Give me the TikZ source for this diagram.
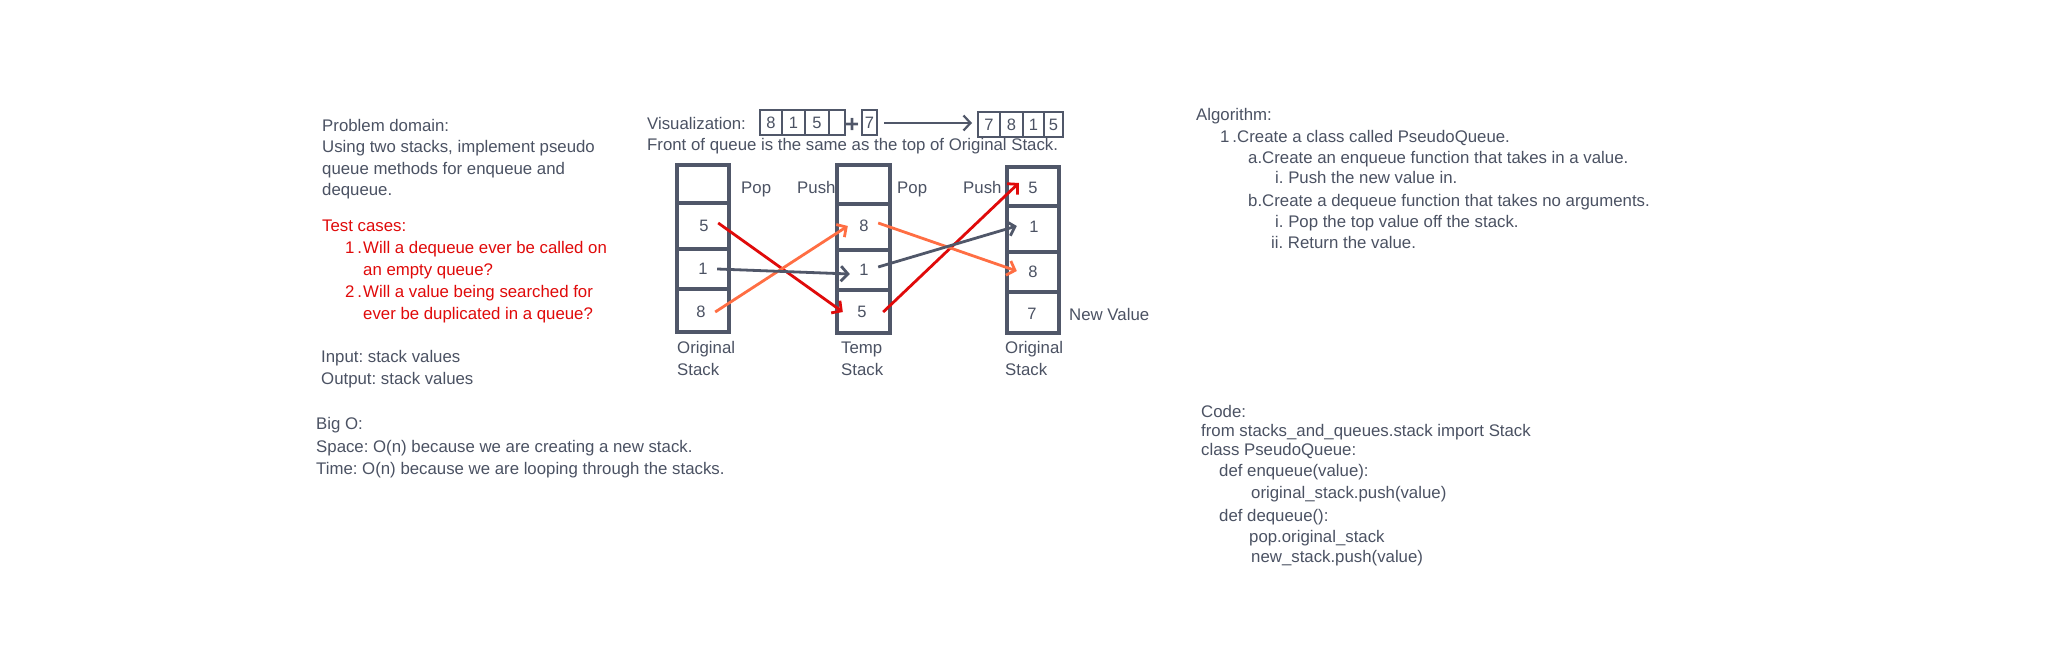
\documentclass[tikz,border=0pt]{standalone}
\usepackage{fontspec}
\setmainfont{Liberation Sans}
\usetikzlibrary{arrows.meta}
\definecolor{tgray}{HTML}{4B5263}
\definecolor{lgray}{HTML}{505769}
\definecolor{tred}{HTML}{E00A0A}
\definecolor{aorange}{HTML}{FF6E43}
\tikzset{
  txt/.style={anchor=base west, inner sep=0pt, text=tgray, font=\fontsize{16.8}{19}\selectfont\frenchspacing},
  rtxt/.style={txt, text=tred},
  num/.style={anchor=center, inner sep=0pt, minimum width=28pt, minimum height=16pt, text=tgray, font=\fontsize{16.5}{19}\selectfont},
  stk/.style={draw=lgray, line width=3.2pt},
  vbox/.style={draw=lgray, line width=2.6pt},
  vdiv/.style={draw=lgray, line width=1.6pt},
  arr/.style={line width=2.8pt, -{Straight Barb[length=7pt,width=15pt]}},
  redarr/.style={arr, draw=tred},
  orarr/.style={arr, draw=aorange},
  grarr/.style={arr, draw=lgray},
}
\begin{document}
\begin{tikzpicture}[x=1pt,y=-1pt]
\path[use as bounding box, fill=white] (0,0) rectangle (2046,671);

% Problem domain block
\node[txt] (pd1) at (322,132) {Problem domain:};
\node[txt] (pd2) at (322,153) {Using two stacks, implement pseudo};
\node[txt] (pd3) at (322,175) {queue methods for enqueue and};
\node[txt] (pd4) at (322,196) {dequeue.};
\node[rtxt] (tc0) at (322,232) {Test cases:};
\node[rtxt] (tc1n) at (345,254) {1\,.};
\node[rtxt] (tc1) at (363,254) {Will a dequeue ever be called on};
\node[rtxt] (tc1b) at (363,276) {an empty queue?};
\node[rtxt] (tc2n) at (345,297) {2\,.};
\node[rtxt] (tc2) at (363,297) {Will a value being searched for};
\node[rtxt] (tc2b) at (363,319) {ever be duplicated in a queue?};
\node[txt] (in) at (321,362) {Input: stack values};
\node[txt] (out) at (321,384) {Output: stack values};

% Big O
\node[txt] (bo1) at (316,429) {Big O:};
\node[txt] (bo2) at (316,452) {Space: O(n) because we are creating a new stack.};
\node[txt] (bo3) at (316,474) {Time: O(n) because we are looping through the stacks.};

% Visualization
\node[txt] (viz) at (647,130) {Visualization:};
\node[txt] (front) at (647,151) {Front of queue is the same as the top of Original Stack.};
\draw[vbox] (760,110) rectangle (845,135);
\draw[vdiv] (782,110) -- (782,135) (805,110) -- (805,135) (829,110) -- (829,135);
\node[num] (q8) at (771,122.5) {8};
\node[num] (q1) at (793.5,122.5) {1};
\node[num] (q5) at (817,122.5) {5};
\node[anchor=center, inner sep=0pt, text=lgray, font=\fontsize{24}{24}\selectfont\bfseries] (plus) at (852,125) {+};
\draw[vbox] (862,110) rectangle (877,135);
\node[num, minimum width=12pt] (q7) at (869.5,122.5) {7};
\draw[vbox] (978,112) rectangle (1063,137);
\draw[vdiv] (1000,112) -- (1000,137) (1023,112) -- (1023,137) (1044,112) -- (1044,137);
\node[num, minimum width=12pt] (r7) at (989,124.5) {7};
\node[num] (r8) at (1011.5,124.5) {8};
\node[num] (r1) at (1033.5,124.5) {1};
\node[num] (r5) at (1053.5,124.5) {5};
\coordinate (va) at (884,123);
\coordinate (vb) at (972,123);
\draw[grarr, line width=2.2pt] (va) -- (vb);

% Stack 1 (Original)
\draw[stk] (677,165) rectangle (729,332);
\draw[stk] (677,203) -- (729,203) (677,249) -- (729,249) (677,289) -- (729,289);
\node[num] (a5) at (704,226) {5};
\node[num] (a1) at (703,269) {1};
\node[num] (a8) at (701,312) {8};

% Stack 2 (Temp)
\draw[stk] (837,165) rectangle (890,333);
\draw[stk] (837,204) -- (890,204) (837,250) -- (890,250) (837,290) -- (890,290);
\node[num] (b8) at (864,226) {8};
\node[num] (b1) at (864,270) {1};
\node[num] (b5) at (862,312) {5};

% Stack 3 (Original)
\draw[stk] (1007,167) rectangle (1059,333);
\draw[stk] (1007,206) -- (1059,206) (1007,252) -- (1059,252) (1007,292) -- (1059,292);
\node[num] (c5) at (1033,188) {5};
\node[num] (c1) at (1034,227) {1};
\node[num] (c8) at (1033,272) {8};
\node[num] (c7) at (1032,314) {7};

% Labels
\node[txt] (pop1) at (741,194) {Pop};
\node[txt] (push1) at (797,194) {Push};
\node[txt] (pop2) at (897,194) {Pop};
\node[txt] (push2) at (963,194) {Push};
\node[txt] (newv) at (1069,320) {New Value};
\node[txt] (l1a) at (677,353) {Original};
\node[txt] (l1b) at (677,375) {Stack};
\node[txt] (l2a) at (841,353) {Temp};
\node[txt] (l2b) at (841,375) {Stack};
\node[txt] (l3a) at (1005,353) {Original};
\node[txt] (l3b) at (1005,375) {Stack};

% Arrows stack1 -> stack2
\draw[redarr] ([yshift=3pt]a5.east) -- ([xshift=-5pt]b5.west);
\draw[orarr] (a8.east) -- ([xshift=-2pt]b8.west);
\draw[grarr] (a1.east) -- ([yshift=-4pt]b1.west);
% Arrows stack2 -> stack3
\draw[redarr] ([xshift=7pt]b5.east) -- ([yshift=5pt]c5.west);
\draw[orarr] ([yshift=3pt]b8.east) -- ([yshift=1pt,xshift=-2pt]c8.west);
\draw[grarr] ([yshift=3pt]b1.east) -- ([yshift=1pt,xshift=-3pt]c1.west);

% Algorithm
\node[txt] (alg) at (1196,121) {Algorithm:};
\node[txt] (al1n) at (1220,143) {1\,.};
\node[txt] (al1) at (1237,143) {Create a class called PseudoQueue.};
\node[txt] (ala) at (1248,164) {a.Create an enqueue function that takes in a value.};
\node[txt] (alai) at (1275,184) {i. Push the new value in.};
\node[txt] (alb) at (1248,207) {b.Create a dequeue function that takes no arguments.};
\node[txt] (albi) at (1275,228) {i. Pop the top value off the stack.};
\node[txt] (albii) at (1271,248) {ii. Return the value.};

% Code
\node[txt] (cd0) at (1201,417) {Code:};
\node[txt] (cd1) at (1201,436) {from stacks\_and\_queues.stack import Stack};
\node[txt] (cd2) at (1201,455) {class PseudoQueue:};
\node[txt] (cd3) at (1219,476) {def enqueue(value):};
\node[txt] (cd4) at (1251,498) {original\_stack.push(value)};
\node[txt] (cd5) at (1219,521) {def dequeue():};
\node[txt] (cd6) at (1249,542) {pop.original\_stack};
\node[txt] (cd7) at (1251,562) {new\_stack.push(value)};
\end{tikzpicture}
\end{document}
